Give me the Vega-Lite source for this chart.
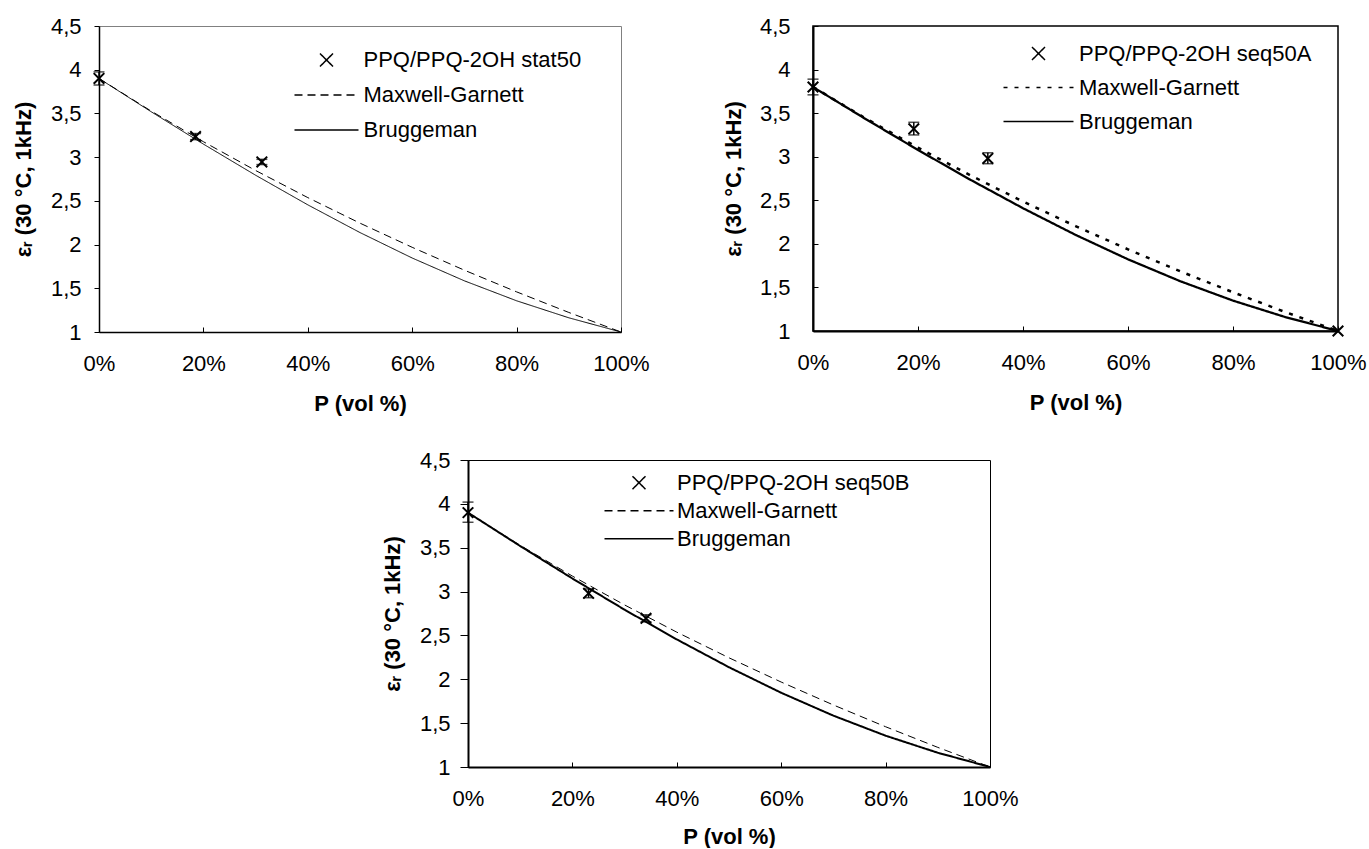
{
  "$schema": "https://vega.github.io/schema/vega-lite/v6.json",
  "padding": {"left": 11, "top": 14, "right": 0, "bottom": 0},
  "background": "white",
  "config": {
    "font": "Liberation Sans",
    "view": {"stroke": "black"},
    "axis": {"labelFont": "Liberation Sans", "labelFontSize": 22, "labelColor": "black", "titleFont": "Liberation Sans", "titleFontSize": 22, "titleFontWeight": "bold", "titleColor": "black", "domainColor": "black", "tickColor": "black", "grid": false, "labelFlush": false, "labelOverlap": false},
    "legend": {"labelFont": "Liberation Sans", "labelFontSize": 22, "labelColor": "black", "padding": 0, "labelLimit": 0}
  },
  "datasets": {
    "models": [
      {"panel": "A", "series": "Maxwell-Garnett", "P": 0, "eps": 3.9}, {"panel": "A", "series": "Maxwell-Garnett", "P": 0.1, "eps": 3.5267}, {"panel": "A", "series": "Maxwell-Garnett", "P": 0.2, "eps": 3.1765}, {"panel": "A", "series": "Maxwell-Garnett", "P": 0.3, "eps": 2.8474}, {"panel": "A", "series": "Maxwell-Garnett", "P": 0.4, "eps": 2.5373}, {"panel": "A", "series": "Maxwell-Garnett", "P": 0.5, "eps": 2.2449}, {"panel": "A", "series": "Maxwell-Garnett", "P": 0.6, "eps": 1.9685}, {"panel": "A", "series": "Maxwell-Garnett", "P": 0.7, "eps": 1.7069}, {"panel": "A", "series": "Maxwell-Garnett", "P": 0.8, "eps": 1.459}, {"panel": "A", "series": "Maxwell-Garnett", "P": 0.9, "eps": 1.2237}, {"panel": "A", "series": "Maxwell-Garnett", "P": 1, "eps": 1},
      {"panel": "A", "series": "Bruggeman", "P": 0, "eps": 3.9}, {"panel": "A", "series": "Bruggeman", "P": 0.1, "eps": 3.5191}, {"panel": "A", "series": "Bruggeman", "P": 0.2, "eps": 3.1492}, {"panel": "A", "series": "Bruggeman", "P": 0.3, "eps": 2.7932}, {"panel": "A", "series": "Bruggeman", "P": 0.4, "eps": 2.4545}, {"panel": "A", "series": "Bruggeman", "P": 0.5, "eps": 2.1373}, {"panel": "A", "series": "Bruggeman", "P": 0.6, "eps": 1.8462}, {"panel": "A", "series": "Bruggeman", "P": 0.7, "eps": 1.5852}, {"panel": "A", "series": "Bruggeman", "P": 0.8, "eps": 1.357}, {"panel": "A", "series": "Bruggeman", "P": 0.9, "eps": 1.1625}, {"panel": "A", "series": "Bruggeman", "P": 1, "eps": 1},
      {"panel": "B", "series": "Maxwell-Garnett", "P": 0, "eps": 3.8}, {"panel": "B", "series": "Maxwell-Garnett", "P": 0.1, "eps": 3.4405}, {"panel": "B", "series": "Maxwell-Garnett", "P": 0.2, "eps": 3.1031}, {"panel": "B", "series": "Maxwell-Garnett", "P": 0.3, "eps": 2.7856}, {"panel": "B", "series": "Maxwell-Garnett", "P": 0.4, "eps": 2.4864}, {"panel": "B", "series": "Maxwell-Garnett", "P": 0.5, "eps": 2.204}, {"panel": "B", "series": "Maxwell-Garnett", "P": 0.6, "eps": 1.937}, {"panel": "B", "series": "Maxwell-Garnett", "P": 0.7, "eps": 1.6841}, {"panel": "B", "series": "Maxwell-Garnett", "P": 0.8, "eps": 1.4443}, {"panel": "B", "series": "Maxwell-Garnett", "P": 0.9, "eps": 1.2165}, {"panel": "B", "series": "Maxwell-Garnett", "P": 1, "eps": 1},
      {"panel": "B", "series": "Bruggeman", "P": 0, "eps": 3.8}, {"panel": "B", "series": "Bruggeman", "P": 0.1, "eps": 3.4334}, {"panel": "B", "series": "Bruggeman", "P": 0.2, "eps": 3.0774}, {"panel": "B", "series": "Bruggeman", "P": 0.3, "eps": 2.7348}, {"panel": "B", "series": "Bruggeman", "P": 0.4, "eps": 2.4088}, {"panel": "B", "series": "Bruggeman", "P": 0.5, "eps": 2.1033}, {"panel": "B", "series": "Bruggeman", "P": 0.6, "eps": 1.8225}, {"panel": "B", "series": "Bruggeman", "P": 0.7, "eps": 1.5701}, {"panel": "B", "series": "Bruggeman", "P": 0.8, "eps": 1.3487}, {"panel": "B", "series": "Bruggeman", "P": 0.9, "eps": 1.1591}, {"panel": "B", "series": "Bruggeman", "P": 1, "eps": 1},
      {"panel": "C", "series": "Maxwell-Garnett", "P": 0, "eps": 3.9}, {"panel": "C", "series": "Maxwell-Garnett", "P": 0.1, "eps": 3.5267}, {"panel": "C", "series": "Maxwell-Garnett", "P": 0.2, "eps": 3.1765}, {"panel": "C", "series": "Maxwell-Garnett", "P": 0.3, "eps": 2.8474}, {"panel": "C", "series": "Maxwell-Garnett", "P": 0.4, "eps": 2.5373}, {"panel": "C", "series": "Maxwell-Garnett", "P": 0.5, "eps": 2.2449}, {"panel": "C", "series": "Maxwell-Garnett", "P": 0.6, "eps": 1.9685}, {"panel": "C", "series": "Maxwell-Garnett", "P": 0.7, "eps": 1.7069}, {"panel": "C", "series": "Maxwell-Garnett", "P": 0.8, "eps": 1.459}, {"panel": "C", "series": "Maxwell-Garnett", "P": 0.9, "eps": 1.2237}, {"panel": "C", "series": "Maxwell-Garnett", "P": 1, "eps": 1},
      {"panel": "C", "series": "Bruggeman", "P": 0, "eps": 3.9}, {"panel": "C", "series": "Bruggeman", "P": 0.1, "eps": 3.5191}, {"panel": "C", "series": "Bruggeman", "P": 0.2, "eps": 3.1492}, {"panel": "C", "series": "Bruggeman", "P": 0.3, "eps": 2.7932}, {"panel": "C", "series": "Bruggeman", "P": 0.4, "eps": 2.4545}, {"panel": "C", "series": "Bruggeman", "P": 0.5, "eps": 2.1373}, {"panel": "C", "series": "Bruggeman", "P": 0.6, "eps": 1.8462}, {"panel": "C", "series": "Bruggeman", "P": 0.7, "eps": 1.5852}, {"panel": "C", "series": "Bruggeman", "P": 0.8, "eps": 1.357}, {"panel": "C", "series": "Bruggeman", "P": 0.9, "eps": 1.1625}, {"panel": "C", "series": "Bruggeman", "P": 1, "eps": 1}
    ],
    "pts": [
      {"panel": "A", "series": "PPQ/PPQ-2OH stat50", "P": 0, "eps": 3.9, "lo": 3.825, "hi": 3.975},
      {"panel": "A", "series": "PPQ/PPQ-2OH stat50", "P": 0.185, "eps": 3.235, "lo": 3.2, "hi": 3.27},
      {"panel": "A", "series": "PPQ/PPQ-2OH stat50", "P": 0.312, "eps": 2.945, "lo": 2.915, "hi": 2.975},
      {"panel": "B", "series": "PPQ/PPQ-2OH seq50A", "P": 0, "eps": 3.8, "lo": 3.71, "hi": 3.89},
      {"panel": "B", "series": "PPQ/PPQ-2OH seq50A", "P": 0.192, "eps": 3.32, "lo": 3.25, "hi": 3.395},
      {"panel": "B", "series": "PPQ/PPQ-2OH seq50A", "P": 0.333, "eps": 2.98, "lo": 2.92, "hi": 3.045},
      {"panel": "B", "series": "PPQ/PPQ-2OH seq50A", "P": 1, "eps": 1, "lo": null, "hi": null},
      {"panel": "C", "series": "PPQ/PPQ-2OH seq50B", "P": 0, "eps": 3.9, "lo": 3.79, "hi": 4.02},
      {"panel": "C", "series": "PPQ/PPQ-2OH seq50B", "P": 0.231, "eps": 2.98, "lo": 2.93, "hi": 3.03},
      {"panel": "C", "series": "PPQ/PPQ-2OH seq50B", "P": 0.341, "eps": 2.695, "lo": 2.655, "hi": 2.735}
    ]
  },
  "spacing": 33,
  "resolve": {"scale": {"shape": "independent", "strokeDash": "independent"}, "legend": {"shape": "independent", "strokeDash": "independent"}},
  "vconcat": [
    {
      "resolve": {"scale": {"shape": "independent", "strokeDash": "independent"}, "legend": {"shape": "independent", "strokeDash": "independent"}},
      "hconcat": [
        {
          "width": 522, "height": 306,
          "view": {"stroke": "#808080", "strokeWidth": 1},
          "encoding": {
            "x": {"field": "P", "type": "quantitative", "title": "P (vol %)", "scale": {"domain": [0, 1], "nice": false, "zero": false},
                  "axis": {"values": [0, 0.2, 0.4, 0.6, 0.8, 1], "format": ".0%", "tickSize": -5, "labelPadding": 26, "titlePadding": 19, "domainWidth": 1.5}}
          },
          "layer": [
            {"data": {"name": "models"}, "transform": [{"filter": "datum.panel === 'A' && datum.series === 'Maxwell-Garnett'"}],
             "mark": {"type": "line", "stroke": "black", "strokeWidth": 1},
             "encoding": {
               "y": {"field": "eps", "type": "quantitative", "title": "εᵣ (30 °C, 1kHz)", "scale": {"domain": [1, 4.5], "nice": false, "zero": false},
                     "axis": {"values": [1, 1.5, 2, 2.5, 3, 3.5, 4, 4.5], "labelExpr": "replace(toString(datum.value), '.', ',')", "tickSize": 5, "labelPadding": 13, "titlePadding": 15, "domainWidth": 1.5}},
               "strokeDash": {"field": "series", "type": "nominal", "scale": {"domain": ["PPQ/PPQ-2OH stat50", "Maxwell-Garnett", "Bruggeman"], "range": [[1, 0], [8, 5], [1, 0]]},
                              "legend": {"title": null, "orient": "none", "legendX": 204, "legendY": 10.5, "symbolSize": 2070, "labelOffset": 13.5, "rowPadding": 0, "padding": 0,
                                         "encode": {"symbols": {"update": {"fill": {"value": "transparent"}, "stroke": {"value": "black"}, "strokeWidth": {"signal": "datum.value === 'PPQ/PPQ-2OH stat50' ? 1.5 : 1"}}}}}}
             }},
            {"data": {"name": "models"}, "transform": [{"filter": "datum.panel === 'A' && datum.series === 'Bruggeman'"}],
             "mark": {"type": "line", "stroke": "black", "strokeWidth": 1},
             "encoding": {
               "y": {"field": "eps", "type": "quantitative", "title": "εᵣ (30 °C, 1kHz)"},
               "strokeDash": {"field": "series", "type": "nominal", "scale": {"domain": ["PPQ/PPQ-2OH stat50", "Maxwell-Garnett", "Bruggeman"], "range": [[1, 0], [8, 5], [1, 0]]}}
             }},
            {"data": {"name": "pts"}, "transform": [{"filter": "datum.panel === 'A' && datum.lo != null"}],
             "mark": {"type": "errorbar", "color": "black", "thickness": 1.5, "ticks": {"size": 11, "thickness": 1.5, "color": "black"}},
             "encoding": {"y": {"field": "lo", "type": "quantitative", "title": "εᵣ (30 °C, 1kHz)"}, "y2": {"field": "hi"}}},
            {"data": {"name": "pts"}, "transform": [{"filter": "datum.panel === 'A'"}],
             "mark": {"type": "point", "filled": false, "stroke": "black", "strokeWidth": 2, "size": 1370, "opacity": 1},
             "encoding": {
               "y": {"field": "eps", "type": "quantitative", "title": "εᵣ (30 °C, 1kHz)"},
               "shape": {"field": "series", "type": "nominal", "scale": {"domain": ["PPQ/PPQ-2OH stat50", "Maxwell-Garnett", "Bruggeman"], "range": ["M-0.286,-0.286L0.286,0.286M-0.286,0.286L0.286,-0.286", "M-1.407,0L1.407,0", "M-1.407,0L1.407,0"]},
                         "legend": {"title": null, "orient": "none", "legendX": 204, "legendY": 10.5, "symbolSize": 2070, "labelOffset": 13.5, "rowPadding": 0, "padding": 0,
                                    "encode": {"symbols": {"update": {"fill": {"value": "transparent"}, "stroke": {"value": "black"}, "strokeWidth": {"signal": "datum.value === 'PPQ/PPQ-2OH stat50' ? 1.5 : 1"}}}}}}
             }}
          ]
        },
        {
          "width": 525, "height": 305,
          "view": {"stroke": "black", "strokeWidth": 1.5},
          "encoding": {
            "x": {"field": "P", "type": "quantitative", "title": "P (vol %)", "scale": {"domain": [0, 1], "nice": false, "zero": false},
                  "axis": {"values": [0, 0.2, 0.4, 0.6, 0.8, 1], "format": ".0%", "tickSize": -5, "labelPadding": 26, "titlePadding": 19, "domainWidth": 2}}
          },
          "layer": [
            {"data": {"name": "models"}, "transform": [{"filter": "datum.panel === 'B' && datum.series === 'Maxwell-Garnett'"}],
             "mark": {"type": "line", "stroke": "black", "strokeWidth": 2.5},
             "encoding": {
               "y": {"field": "eps", "type": "quantitative", "title": "εᵣ (30 °C, 1kHz)", "scale": {"domain": [1, 4.5], "nice": false, "zero": false},
                     "axis": {"values": [1, 1.5, 2, 2.5, 3, 3.5, 4, 4.5], "labelExpr": "replace(toString(datum.value), '.', ',')", "tickSize": -5, "labelPadding": 28, "titlePadding": 14, "domainWidth": 2}},
               "strokeDash": {"field": "series", "type": "nominal", "scale": {"domain": ["PPQ/PPQ-2OH seq50A", "Maxwell-Garnett", "Bruggeman"], "range": [[1, 0], [4, 7], [1, 0]]},
                              "legend": {"title": null, "orient": "none", "legendX": 203, "legendY": 5, "symbolSize": 1892, "labelOffset": 18, "rowPadding": 0, "padding": 0,
                                         "encode": {"symbols": {"update": {"fill": {"value": "transparent"}, "stroke": {"value": "black"}, "strokeWidth": {"signal": "datum.value === 'PPQ/PPQ-2OH seq50A' ? 1.5 : datum.value === 'Maxwell-Garnett' ? 2.5 : 2.25"}}}}}}
             }},
            {"data": {"name": "models"}, "transform": [{"filter": "datum.panel === 'B' && datum.series === 'Bruggeman'"}],
             "mark": {"type": "line", "stroke": "black", "strokeWidth": 2.25},
             "encoding": {
               "y": {"field": "eps", "type": "quantitative", "title": "εᵣ (30 °C, 1kHz)"},
               "strokeDash": {"field": "series", "type": "nominal", "scale": {"domain": ["PPQ/PPQ-2OH seq50A", "Maxwell-Garnett", "Bruggeman"], "range": [[1, 0], [4, 7], [1, 0]]}}
             }},
            {"data": {"name": "pts"}, "transform": [{"filter": "datum.panel === 'B' && datum.lo != null"}],
             "mark": {"type": "errorbar", "color": "black", "thickness": 1.5, "ticks": {"size": 11, "thickness": 1.5, "color": "black"}},
             "encoding": {"y": {"field": "lo", "type": "quantitative", "title": "εᵣ (30 °C, 1kHz)"}, "y2": {"field": "hi"}}},
            {"data": {"name": "pts"}, "transform": [{"filter": "datum.panel === 'B'"}],
             "mark": {"type": "point", "filled": false, "stroke": "black", "strokeWidth": 2, "size": 1255, "opacity": 1},
             "encoding": {
               "y": {"field": "eps", "type": "quantitative", "title": "εᵣ (30 °C, 1kHz)"},
               "shape": {"field": "series", "type": "nominal", "scale": {"domain": ["PPQ/PPQ-2OH seq50A", "Maxwell-Garnett", "Bruggeman"], "range": ["M-0.299,-0.299L0.299,0.299M-0.299,0.299L0.299,-0.299", "M-1.609,0L1.609,0", "M-1.609,0L1.609,0"]},
                         "legend": {"title": null, "orient": "none", "legendX": 203, "legendY": 5, "symbolSize": 1892, "labelOffset": 18, "rowPadding": 0, "padding": 0,
                                    "encode": {"symbols": {"update": {"fill": {"value": "transparent"}, "stroke": {"value": "black"}, "strokeWidth": {"signal": "datum.value === 'PPQ/PPQ-2OH seq50A' ? 1.5 : datum.value === 'Maxwell-Garnett' ? 2.5 : 2.25"}}}}}}
             }}
          ]
        }
      ],
      "spacing": 192,
      "bounds": "flush"
    },
    {
      "resolve": {"scale": {"shape": "independent", "strokeDash": "independent"}, "legend": {"shape": "independent", "strokeDash": "independent"}},
      "hconcat": [
        {"width": 369, "height": 10, "view": {"stroke": null}, "data": {"values": [{}]}, "mark": {"type": "point", "opacity": 0}},
        {
          "width": 522, "height": 307,
          "view": {"stroke": "black", "strokeWidth": 1},
          "encoding": {
            "x": {"field": "P", "type": "quantitative", "title": "P (vol %)", "scale": {"domain": [0, 1], "nice": false, "zero": false},
                  "axis": {"values": [0, 0.2, 0.4, 0.6, 0.8, 1], "format": ".0%", "tickSize": -5, "labelPadding": 26, "titlePadding": 17, "domainWidth": 2}}
          },
          "layer": [
            {"data": {"name": "models"}, "transform": [{"filter": "datum.panel === 'C' && datum.series === 'Maxwell-Garnett'"}],
             "mark": {"type": "line", "stroke": "black", "strokeWidth": 1},
             "encoding": {
               "y": {"field": "eps", "type": "quantitative", "title": "εᵣ (30 °C, 1kHz)", "scale": {"domain": [1, 4.5], "nice": false, "zero": false},
                     "axis": {"values": [1, 1.5, 2, 2.5, 3, 3.5, 4, 4.5], "labelExpr": "replace(toString(datum.value), '.', ',')", "tickSize": 8, "labelPadding": 10, "titlePadding": 15, "domainWidth": 2}},
               "strokeDash": {"field": "series", "type": "nominal", "scale": {"domain": ["PPQ/PPQ-2OH seq50B", "Maxwell-Garnett", "Bruggeman"], "range": [[1, 0], [8, 5], [1, 0]]},
                              "legend": {"title": null, "orient": "none", "legendX": 154, "legendY": 5.7, "symbolSize": 1024, "labelOffset": 21, "rowPadding": 0, "padding": 0,
                                         "encode": {"symbols": {"update": {"fill": {"value": "transparent"}, "stroke": {"value": "black"}, "strokeWidth": {"signal": "datum.value === 'PPQ/PPQ-2OH seq50B' ? 1.5 : datum.value === 'Maxwell-Garnett' ? 1 : 2"}}}}}}
             }},
            {"data": {"name": "models"}, "transform": [{"filter": "datum.panel === 'C' && datum.series === 'Bruggeman'"}],
             "mark": {"type": "line", "stroke": "black", "strokeWidth": 2},
             "encoding": {
               "y": {"field": "eps", "type": "quantitative", "title": "εᵣ (30 °C, 1kHz)"},
               "strokeDash": {"field": "series", "type": "nominal", "scale": {"domain": ["PPQ/PPQ-2OH seq50B", "Maxwell-Garnett", "Bruggeman"], "range": [[1, 0], [8, 5], [1, 0]]}}
             }},
            {"data": {"name": "pts"}, "transform": [{"filter": "datum.panel === 'C' && datum.lo != null"}],
             "mark": {"type": "errorbar", "color": "black", "thickness": 1.5, "ticks": {"size": 11, "thickness": 1.5, "color": "black"}},
             "encoding": {"y": {"field": "lo", "type": "quantitative", "title": "εᵣ (30 °C, 1kHz)"}, "y2": {"field": "hi"}}},
            {"data": {"name": "pts"}, "transform": [{"filter": "datum.panel === 'C'"}],
             "mark": {"type": "point", "filled": false, "stroke": "black", "strokeWidth": 2, "size": 676, "opacity": 1},
             "encoding": {
               "y": {"field": "eps", "type": "quantitative", "title": "εᵣ (30 °C, 1kHz)"},
               "shape": {"field": "series", "type": "nominal", "scale": {"domain": ["PPQ/PPQ-2OH seq50B", "Maxwell-Garnett", "Bruggeman"], "range": ["M-0.406,-0.406L0.406,0.406M-0.406,0.406L0.406,-0.406", "M-2.156,0L2.156,0", "M-2.156,0L2.156,0"]},
                         "legend": {"title": null, "orient": "none", "legendX": 154, "legendY": 5.7, "symbolSize": 1024, "labelOffset": 21, "rowPadding": 0, "padding": 0,
                                    "encode": {"symbols": {"update": {"fill": {"value": "transparent"}, "stroke": {"value": "black"}, "strokeWidth": {"signal": "datum.value === 'PPQ/PPQ-2OH seq50B' ? 1.5 : datum.value === 'Maxwell-Garnett' ? 1 : 2"}}}}}}
             }}
          ]
        }
      ],
      "spacing": 0,
      "bounds": "flush"
    }
  ]
}
